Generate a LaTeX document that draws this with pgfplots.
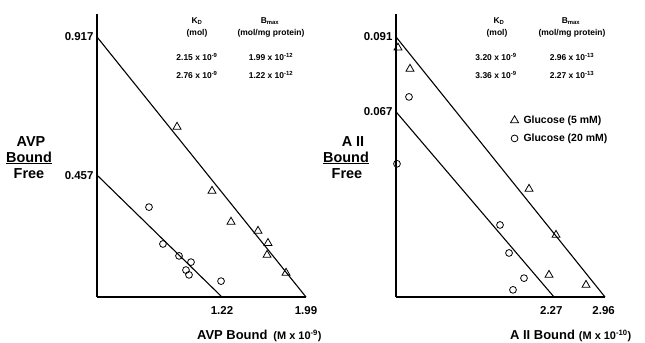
\documentclass[border=0pt]{standalone}
\usepackage{fontspec}
\setmainfont{Liberation Sans}
\usepackage{pgfplots}
\pgfplotsset{compat=1.18}
\newcommand\lab{\fontsize{14.5}{16}\selectfont\bfseries}
\newcommand\tab{\fontsize{8.5}{10}\selectfont\bfseries}
\begin{document}
\begin{tikzpicture}
\path[use as bounding box] (0,0) rectangle (645bp,-343bp);
\pgfplotsset{
  myaxis/.style={scale only axis, width=209bp, height=283bp, anchor=south west,
   axis x line=bottom, axis y line=left, axis line style={-, line width=1.4bp},
   major tick length=0pt, ymin=0, xmin=0, scaled ticks=false,
   ticklabel style={font=\fontsize{11.5}{13}\selectfont\bfseries},
   /pgf/number format/assume math mode=true,
   xticklabel style={yshift=-6bp}, clip=false},
  fitline/.style={black, line width=1.1bp, no marks, forget plot},
  tri/.style={only marks, mark=triangle, mark size=4.6bp, mark options={black, line width=0.8bp, fill=white}},
  circ/.style={only marks, mark=o, mark size=3.4bp, mark options={black, line width=0.8bp}},
}
% Left panel: AVP
\begin{axis}[myaxis, at={(97bp,-297bp)}, xmax=1.99, ymax=0.998,
  xtick={1.19,1.99}, xticklabels={1.22,1.99},
  ytick={0.43,0.917}, yticklabels={0.457,0.917}]
\addplot[fitline] coordinates {(0,0.917) (1.99,0)};
\addplot[fitline] coordinates {(0,0.43) (1.19,0)};
\addplot[tri] coordinates {(0.762,0.600) (1.095,0.374) (1.276,0.265) (1.533,0.233) (1.628,0.190) (1.619,0.148) (1.800,0.085)};
\addplot[circ] coordinates {(0.495,0.317) (0.628,0.187) (0.781,0.145) (0.895,0.123) (0.847,0.095) (0.876,0.078) (1.181,0.056)};
\end{axis}
% Right panel: A II
\begin{axis}[myaxis, at={(396bp,-297bp)}, xmax=2.96, ymax=0.099,
  xtick={2.2,2.94}, xticklabels={2.27,2.96},
  ytick={0.0648,0.091}, yticklabels={0.067,0.091},
  legend style={at={(0.533,0.655)}, anchor=north west, draw=none, fill=none,
    font=\fontsize{10.5}{12}\selectfont\bfseries, row sep=5bp},
  legend cell align=left]
\addplot[fitline] coordinates {(0,0.091) (2.96,0)};
\addplot[fitline] coordinates {(0,0.0648) (2.238,0)};
\addplot[tri] coordinates {(0.028,0.0872) (0.198,0.0798) (1.884,0.0378) (2.266,0.0217) (2.167,0.0077) (2.691,0.0042)};
\addlegendentry{\hspace{3bp}Glucose (5 mM)}
\addplot[circ] coordinates {(0.184,0.0700) (0.014,0.0466) (1.473,0.0252) (1.601,0.0154) (1.813,0.0066) (1.657,0.0025)};
\addlegendentry{\hspace{3bp}Glucose (20 mM)}
\end{axis}
% y labels
\node[font=\lab, anchor=base] at (31bp,-146.5bp) {AVP};
\node[font=\lab, anchor=base] at (29bp,-162bp) {\underline{Bound}};
\node[font=\lab, anchor=base] at (29bp,-178.5bp) {Free};
\node[font=\lab, anchor=base] at (353bp,-146.5bp) {A II};
\node[font=\lab, anchor=base] at (346bp,-162bp) {\underline{Bound}};
\node[font=\lab, anchor=base] at (347bp,-178.5bp) {Free};
% x labels
\node[anchor=base west, inner sep=0pt] at (197bp,-339bp) {\fontsize{13}{15}\selectfont\bfseries AVP Bound\hspace{6bp}{\fontsize{11}{12}\selectfont (M x 10\textsuperscript{-9})}};
\node[anchor=base west, inner sep=0pt] at (510bp,-339bp) {\fontsize{13}{15}\selectfont\bfseries A II Bound\hspace{4bp}{\fontsize{11}{12}\selectfont (M x 10\textsuperscript{-10})}};
% tables
\node[font=\tab] at (197bp,-21bp) {K\textsubscript{D}};
\node[font=\tab] at (197bp,-33bp) {(mol)};
\node[font=\tab] at (270bp,-21bp) {B\textsubscript{max}};
\node[font=\tab] at (271bp,-33bp) {(mol/mg protein)};
\node[font=\tab] at (197bp,-57bp) {2.15 x 10\textsuperscript{-9}};
\node[font=\tab] at (271bp,-57bp) {1.99 x 10\textsuperscript{-12}};
\node[font=\tab] at (197bp,-75bp) {2.76 x 10\textsuperscript{-9}};
\node[font=\tab] at (271bp,-75bp) {1.22 x 10\textsuperscript{-12}};
\node[font=\tab] at (499bp,-21bp) {K\textsubscript{D}};
\node[font=\tab] at (497bp,-33bp) {(mol)};
\node[font=\tab] at (571bp,-21bp) {B\textsubscript{max}};
\node[font=\tab] at (572bp,-33bp) {(mol/mg protein)};
\node[font=\tab] at (496bp,-57bp) {3.20 x 10\textsuperscript{-9}};
\node[font=\tab] at (572bp,-57bp) {2.96 x 10\textsuperscript{-13}};
\node[font=\tab] at (496bp,-75bp) {3.36 x 10\textsuperscript{-9}};
\node[font=\tab] at (572bp,-75bp) {2.27 x 10\textsuperscript{-13}};
\end{tikzpicture}
\end{document}
